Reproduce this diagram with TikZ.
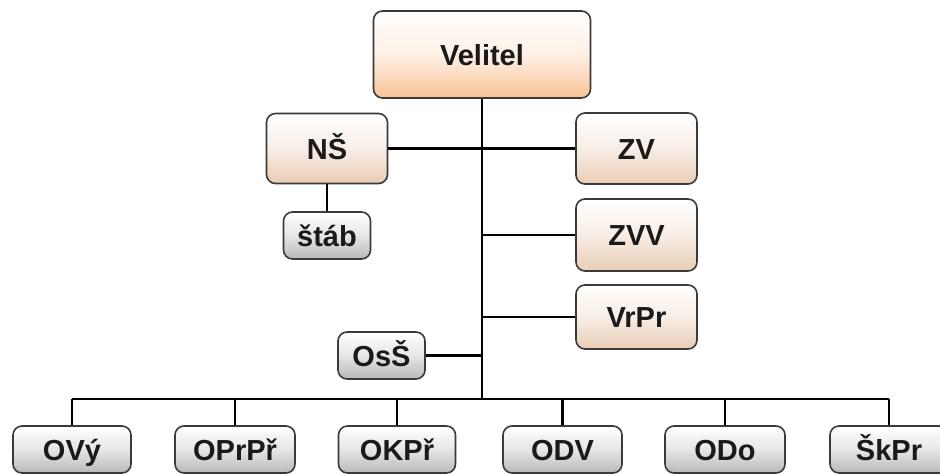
\documentclass[tikz,border=0pt]{standalone}
\usepackage{fontspec}
\setmainfont{Liberation Sans}
\definecolor{bord}{HTML}{3A3A3A}
\definecolor{orng}{HTML}{F9C396}
\definecolor{tanc}{HTML}{E9CDB6}
\definecolor{gryc}{HTML}{B8B8B8}
\definecolor{txt}{HTML}{1A1A1A}
\tikzset{
  box/.style={draw=bord, line width=1.6pt, rounded corners=9pt, inner sep=0pt,
    text height=21pt, text depth=0pt,
    font=\fontsize{29}{32}\selectfont\bfseries, text=txt, shading=axis, top color=white},
  topbox/.style={box, bottom color=orng, middle color=orng!25},
  tanbox/.style={box, bottom color=tanc, middle color=tanc!35},
  graybox/.style={box, bottom color=gryc, middle color=gryc!35},
  conn/.style={line width=2.5pt, draw=black}
}
\begin{document}
\begin{tikzpicture}[x=1pt,y=-1pt]
\useasboundingbox (0,0) rectangle (940,474);
% top
\node[topbox, minimum width=217pt, minimum height=87pt] (vel) at (482,54.5) {Velitel};
% left
\node[tanbox, minimum width=121pt, minimum height=70pt] (ns) at (327,148.5) {NŠ};
\node[graybox, minimum width=87pt, minimum height=47pt] (stab) at (327,235.5) {štáb};
\node[graybox, minimum width=87pt, minimum height=47pt] (oss) at (381.5,355.5) {OsŠ};
% right
\node[tanbox, minimum width=121pt, minimum height=71pt] (zv) at (636.5,148.5) {ZV};
\node[tanbox, minimum width=121pt, minimum height=72pt] (zvv) at (636.5,235) {ZVV};
\node[tanbox, minimum width=121pt, minimum height=64pt] (vrpr) at (636.5,317) {VrPr};
% bottom
\node[graybox, minimum width=118pt, minimum height=47pt] (ovy) at (72,449.5) {OVý};
\node[graybox, minimum width=120pt, minimum height=47pt] (oprpr) at (235,449.5) {OPrPř};
\node[graybox, minimum width=117pt, minimum height=47pt] (okpr) at (397,449.5) {OKPř};
\node[graybox, minimum width=119pt, minimum height=47pt] (odv) at (562.5,449.5) {ODV};
\node[graybox, minimum width=120pt, minimum height=47pt] (odo) at (725,449.5) {ODo};
\node[graybox, minimum width=118pt, minimum height=47pt] (skpr) at (889,449.5) {ŠkPr};
% bus coordinate
\coordinate (busC) at (482,399);
% connectors
\draw[conn] (vel.south) -- (busC);
\draw[conn] (ns.east) -- (zv.west);
\draw[conn] (zvv.west) -- (zvv.west -| vel.south);
\draw[conn] (vrpr.west) -- (vrpr.west -| vel.south);
\draw[conn] (oss.east) -- (oss.east -| vel.south);
\draw[conn] (ns.south) -- (stab.north);
\draw[conn] (ovy.north |- busC) -- (skpr.north |- busC);
\foreach \n in {ovy,oprpr,okpr,odv,odo,skpr}{
  \draw[conn] (\n.north) -- (\n.north |- busC);
}
\end{tikzpicture}
\end{document}
